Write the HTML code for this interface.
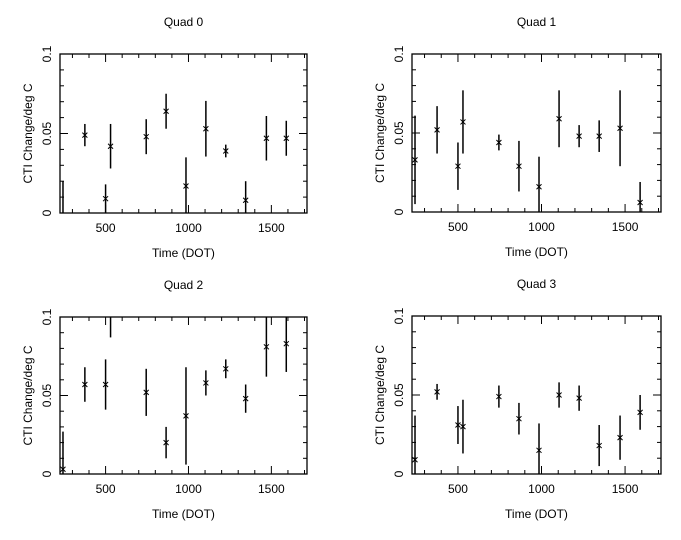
<!DOCTYPE html>
<html><head><meta charset="utf-8"><style>
body{margin:0;background:#fff}
svg{display:block}
text{font-family:"Liberation Sans","DejaVu Sans",sans-serif;font-size:12px;fill:#000}
</style></head><body>
<svg id="chart" width="681" height="540" viewBox="0 0 681 540" xmlns="http://www.w3.org/2000/svg"></svg>
<script>
const times = [243, 375, 500, 530, 745, 865, 985, 1105, 1225, 1345, 1470, 1590];
const quad0Values = [-0.005, 0.049, 0.009, 0.042, 0.048, 0.064, 0.017, 0.053, 0.039, 0.008, 0.047, 0.047];
const quad0Errors = [0.025, 0.007, 0.009, 0.014, 0.011, 0.011, 0.018, 0.0175, 0.004, 0.012, 0.014, 0.011];
const quad1Values = [0.033, 0.052, 0.029, 0.057, 0.044, 0.029, 0.016, 0.059, 0.048, 0.048, 0.053, 0.006];
const quad1Errors = [0.028, 0.015, 0.015, 0.020, 0.005, 0.016, 0.019, 0.018, 0.007, 0.010, 0.024, 0.013];
const quad2Values = [0.003, 0.057, 0.057, 0.105, 0.052, 0.020, 0.037, 0.058, 0.067, 0.048, 0.081, 0.083];
const quad2Errors = [0.024, 0.011, 0.016, 0.018, 0.015, 0.010, 0.031, 0.008, 0.006, 0.009, 0.019, 0.018];
const quad3Values = [0.009, 0.052, 0.031, 0.030, 0.049, 0.035, 0.015, 0.050, 0.048, 0.018, 0.023, 0.039];
const quad3Errors = [0.028, 0.005, 0.012, 0.017, 0.007, 0.010, 0.017, 0.008, 0.008, 0.013, 0.014, 0.011];
const panelTitles = ["Quad 0", "Quad 1", "Quad 2", "Quad 3"];
const xTickLabels = [500, 1000, 1500];
const yTickLabels = ["0", "0.05", "0.1"];
const yTickValues = [0, 0.05, 0.1];
const xMin = 225, xMax = 1715, yMin = 0, yMax = 0.1;

const NS = "http://www.w3.org/2000/svg";
const svg = document.getElementById("chart");
function mk(tag, attrs, parent, txt){
  const e = document.createElementNS(NS, tag);
  for (const k in attrs) e.setAttribute(k, attrs[k]);
  if (txt !== undefined) e.textContent = txt;
  (parent || svg).appendChild(e);
  return e;
}
const panels = [
  {L:60, R:307, T:54, B:213, vals:quad0Values, errs:quad0Errors},
  {L:412, R:661, T:54, B:212, vals:quad1Values, errs:quad1Errors},
  {L:60, R:307, T:317, B:474, vals:quad2Values, errs:quad2Errors},
  {L:412, R:661, T:316, B:474, vals:quad3Values, errs:quad3Errors}
];
panels.forEach((p, i) => {
  const g = mk("g", {});
  
  
  const xs = v => p.L + (v - xMin) / (xMax - xMin) * (p.R - p.L);
  const ys = v => p.B - (v - yMin) / (yMax - yMin) * (p.B - p.T);
  const cx = (p.L + p.R) / 2;
  const t = mk("text", {x: cx, y: 26, "text-anchor": "middle", transform: `translate(0,${p.T - 54})`}, g, panelTitles[i]);
  
  
  const fr = mk("rect", {x: p.L, y: p.T, width: p.R - p.L, height: p.B - p.T, fill: "none", stroke: "#000", "stroke-width": 1.3}, g);
  
  
  // x ticks
  for (let v = 300; v <= 1700; v += 100) {
    const x = xs(v), len = v % 500 === 0 ? 8 : 4;
    mk("line", {x1: x, x2: x, y1: p.B, y2: p.B - len, stroke: "#000"}, g);
    mk("line", {x1: x, x2: x, y1: p.T, y2: p.T + len, stroke: "#000"}, g);
  }
  xTickLabels.forEach(v => {
    const l = mk("text", {x: xs(v), y: p.B + 19, "text-anchor": "middle"}, g, String(v));
    
    
  });
  const xl = mk("text", {x: cx, y: p.B + 44, "text-anchor": "middle"}, g, "Time (DOT)");
  
  
  // y ticks
  for (let k = 1; k < 10; k++) {
    const v = k * 0.01, y = ys(v), len = k === 5 ? 8 : 4;
    mk("line", {x1: p.L, x2: p.L + len, y1: y, y2: y, stroke: "#000"}, g);
    mk("line", {x1: p.R, x2: p.R - len, y1: y, y2: y, stroke: "#000"}, g);
  }
  yTickValues.forEach((v, j) => {
    const x = p.L - 9, y = ys(v);
    const l = mk("text", {x: x, y: y, "text-anchor": "middle", transform: `rotate(-90 ${x} ${y})`}, g, yTickLabels[j]);
    
    
  });
  const yx = p.L - 28, yy = (p.T + p.B) / 2;
  const yl = mk("text", {x: yx, y: yy, "text-anchor": "middle", transform: `rotate(-90 ${yx} ${yy})`}, g, "CTI Change/deg C");
  
  
  // data
  const clip = "clip" + i;
  const cp = mk("clipPath", {id: clip}, g);
  mk("rect", {x: p.L, y: p.T, width: p.R - p.L, height: p.B - p.T}, cp);
  const dg = mk("g", {"clip-path": `url(#${clip})`}, g);
  times.forEach((tv, j) => {
    const x = xs(tv), v = p.vals[j], e = p.errs[j];
    const eb = mk("line", {x1: x, x2: x, y1: ys(v - e), y2: ys(v + e), stroke: "#000", "stroke-width": 1.5}, dg);
    
    
    const y = ys(v);
    const m = mk("path", {d: `M${x-2.5},${y-2.5}L${x+2.5},${y+2.5}M${x-2.5},${y+2.5}L${x+2.5},${y-2.5}`, stroke: "#000", "stroke-width": 1}, dg);
    
    
  });
});
</script>
</body></html>
